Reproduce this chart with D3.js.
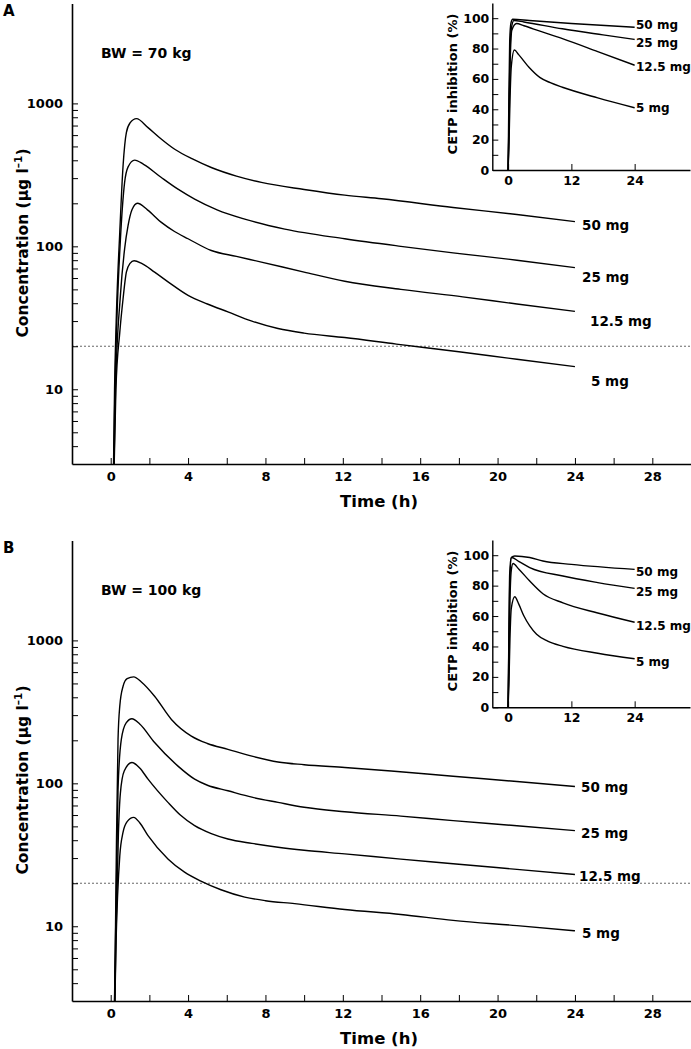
<!DOCTYPE html>
<html><head><meta charset="utf-8">
<script src="https://cdn.jsdelivr.net/npm/d3@7/dist/d3.min.js"></script>
<style>
body{margin:0;background:#fff;}
svg{display:block;font-family:"DejaVu Sans",sans-serif;font-weight:bold;}
</style></head>
<body><svg id="c" width="691" height="1049"></svg>
<script>
// ---------- data ----------
const doses = ["50 mg", "25 mg", "12.5 mg", "5 mg"];
const timeTicks = [0, 4, 8, 12, 16, 20, 24, 28];
const timeMinor = [0, 2, 4, 6, 8, 10, 12, 14, 16, 18, 20, 22, 24, 26, 28];
const concMajor = [10, 100, 1000];
const concMinor = [4,5,6,7,8,9,10,20,30,40,50,60,70,80,90,100,200,300,400,500,600,700,800,900,1000];
const thresholdConc = 20;
const insetTimeTicks = [0, 12, 24];
const inhibTicks = [0,10,20,30,40,50,60,70,80,90,100];
const inhibLabels = [0,20,40,60,80,100];

// Panel A (BW = 70 kg): concentration (µg/l) vs time (h)
const concA50 = [[0.1,1],[0.2,10],[0.3,35],[0.47,126],[0.64,366],[0.81,625],[1.0,730],[1.33,782],[1.93,677],[2.5,580],[3.31,478],[4.2,410],[5.2,356],[6.5,310],[7.79,280],[10,250],[12.1,228],[14,215],[17.7,187],[21,167],[24,149]];
const concA25 = [[0.1,1],[0.22,10],[0.35,40],[0.5,110],[0.72,280],[0.9,360],[1.24,401],[1.7,375],[2.62,303],[3.5,250],[4.34,214],[5.5,180],[6.93,155],[9,132],[12.1,113],[15,100],[17.7,90],[21,80],[24,71]];
const concA12 = [[0.1,1],[0.25,10],[0.5,45],[0.72,96],[0.9,140],[1.1,180],[1.38,200],[1.9,180],[2.62,147],[3.3,127],[4,113],[5.2,93.5],[6.5,85],[7.79,77.6],[10,66],[12.1,57],[15,50],[18.2,44.3],[21,39.5],[24,35.1]];
const concA5 = [[0.1,1],[0.27,10],[0.47,25],[0.64,43],[0.81,66],[1.0,76],[1.21,79.3],[1.6,76],[2.27,66],[3,56],[4,45.4],[5,39.5],[6.06,34.8],[7.3,30],[8.65,26.6],[10,24.7],[12.1,23],[14.77,20.7],[18,18.3],[21,16.2],[24,14.4]];
// Panel B (BW = 100 kg)
const concB50 = [[0.15,1],[0.25,10],[0.3,40],[0.38,203],[0.47,347],[0.64,478],[0.85,540],[1.19,556],[1.6,510],[2.27,407],[3.14,280],[4.17,214],[5,190],[6.06,173],[7.3,155],[8.65,141],[10,135],[12.1,129],[14.5,122],[17.7,112],[21,103],[24,95]];
const concB25 = [[0.15,1],[0.26,10],[0.3,20],[0.38,91],[0.55,203],[0.8,265],[1.1,283],[1.5,260],[2.27,193],[3.48,132],[4.34,107],[5,97],[6.06,88.7],[7.3,80],[8.65,73.6],[10,68],[12.1,63.3],[15,59],[17.7,54.8],[21,50.5],[24,46.7]];
const concB12 = [[0.15,1],[0.27,8],[0.4,45],[0.5,85],[0.7,122],[1.1,140],[1.5,128],[1.93,107],[2.96,73.6],[3.6,60],[4.34,50.6],[5.2,44.5],[6.06,40.8],[7.3,38],[8.65,35.7],[10,34],[12.1,32.1],[15,29.5],[17.7,27.4],[21,25],[24,23]];
const concB5 = [[0.15,1],[0.28,8],[0.47,31],[0.64,45.5],[0.85,54],[1.19,57.8],[1.5,53],[1.93,43],[2.96,29.6],[3.8,24],[4.69,20.6],[5.7,18],[6.93,16],[8,15.1],[9.51,14.4],[12.1,13.1],[15,12.1],[17.7,11],[21,10.1],[24,9.3]];
// Insets: CETP inhibition (%) vs time (h)
const inhA50 = [[0,0],[0.12,40],[0.3,85],[0.55,97],[0.87,99.3],[4,98.5],[12,96.5],[24,94]];
const inhA25 = [[0,0],[0.15,30],[0.35,75],[0.6,93],[1.1,98.5],[3,97.5],[10.3,93],[18,89],[24,86]];
const inhA12 = [[0,0],[0.15,25],[0.35,65],[0.7,92],[1.6,96.5],[3,95],[5.9,91.6],[10.3,86.5],[17,78],[24,69]];
const inhA5 = [[0,0],[0.15,15],[0.35,45],[0.6,68],[1.19,79],[2,76],[4,67.5],[6,61],[8,57.5],[10.3,54.5],[17,47.5],[24,41]];
const inhB50 = [[0,0],[0.12,40],[0.3,88],[0.6,98.5],[1.26,99.5],[4.1,98.5],[6.6,96.2],[12,94],[24,90.7]];
const inhB25 = [[0,0],[0.12,35],[0.3,80],[0.64,98.5],[2,96],[4.1,91.9],[10.4,86.3],[17,82],[24,78.2]];
const inhB12 = [[0,0],[0.15,30],[0.35,70],[0.6,90],[0.94,94.5],[2,91],[4.1,83],[6.6,74.7],[10.4,68.7],[17,62],[24,55.9]];
const inhB5 = [[0,0],[0.15,15],[0.35,45],[0.6,65],[1.26,72.7],[2,68],[3,60],[4.1,53.5],[5.4,48],[7.5,43.5],[10.4,40.1],[17,35.5],[24,31.9]];

const panels = [
  {letter:"A", bw:"BW = 70 kg", conc:[concA50,concA25,concA12,concA5], inh:[inhA50,inhA25,inhA12,inhA5], off:0,
   labY:[225,277,321,381], labX:[582,582,590,591], inLabY:[25,43,67,108]},
  {letter:"B", bw:"BW = 100 kg", conc:[concB50,concB25,concB12,concB5], inh:[inhB50,inhB25,inhB12,inhB5], off:537,
   labY:[787,833,876,933], labX:[581,581,579,582], inLabY:[572,592,626,662]}
];

const svg = d3.select("#c");
const defs = svg.append("defs");
const FONT = '"DejaVu Sans", sans-serif';

panels.forEach((p, pi) => {
  const top = 3.5 + p.off, bottom = 464 + p.off, left = 72, right = 691;
  const x = d3.scaleLinear().domain([-2, 30]).range([left, right]);
  const y = d3.scaleLog().domain([3, 5000]).range([bottom, top]);
  const g = svg.append("g");

  defs.append("clipPath").attr("id","clip"+pi).append("rect")
    .attr("x", left).attr("y", top).attr("width", right-left).attr("height", bottom-top);

  // threshold dotted line
  g.append("line").attr("x1", left).attr("x2", right)
    .attr("y1", y(thresholdConc)).attr("y2", y(thresholdConc))
    .attr("stroke", "#555").attr("stroke-width", 0.9).attr("stroke-dasharray", "2,2");

  // curves
  const line = d3.line().x(d => x(d[0])).y(d => y(d[1])).curve(d3.curveMonotoneX);
  const cg = g.append("g").attr("clip-path", `url(#clip${pi})`);
  p.conc.forEach(s => {
    cg.append("path").attr("d", line(s)).attr("fill","none").attr("stroke","#000").attr("stroke-width",1.4);
  });

  // axes
  const xa = g.append("g").attr("transform", `translate(0,${bottom})`)
    .call(d3.axisBottom(x).tickValues(timeMinor).tickSize(-6).tickSizeOuter(0).tickPadding(8)
      .tickFormat(d => timeTicks.includes(d) ? d : ""));
  const ya = g.append("g").attr("transform", `translate(${left},0)`)
    .call(d3.axisLeft(y).tickValues(concMinor).tickSize(-6).tickSizeOuter(0).tickPadding(9)
      .tickFormat(d => concMajor.includes(d) ? d : ""));
  [xa, ya].forEach(a => {
    a.select(".domain").attr("stroke-width", 1.6);
    a.selectAll(".tick line").attr("stroke-width", 1);
    a.selectAll("text").attr("font-size", 13).attr("font-family", FONT).attr("font-weight","bold").attr("fill","#000");
  });

  // labels
  g.append("text").attr("x", 379).attr("y", bottom + 43).attr("text-anchor","middle")
    .attr("font-size", 16.5).text("Time (h)");
  const yl = g.append("text").attr("transform", `translate(28,${243 + p.off}) rotate(-90)`)
    .attr("text-anchor","middle").attr("font-size", 15.5);
  yl.append("tspan").text("Concentration (\u03bcg l");
  yl.append("tspan").attr("dy", -6).attr("font-size", 10.5).text("\u20131");
  yl.append("tspan").attr("dy", 6).text(")");

  g.append("text").attr("x", 3).attr("y", 16 + p.off).attr("font-size", 15).text(p.letter);
  g.append("text").attr("x", 101).attr("y", 58 + p.off).attr("font-size", 14).text(p.bw);

  doses.forEach((d, i) => {
    g.append("text").attr("x", p.labX[i]).attr("y", p.labY[i]).attr("dy","0.35em")
      .attr("font-size", 13.5).text(d);
  });

  // ---------- inset ----------
  const iTop = 3 + p.off, iBottom = 170 + p.off + (pi ? 0.3 : 0), iLeft = 492.3, iRight = 690;
  const ix = d3.scaleLinear().domain([-3, 34.5]).range([iLeft, iRight]);
  const iy = d3.scaleLinear().domain([0, 110]).range([iBottom, iTop]);
  const ig = svg.append("g");
  const iline = d3.line().x(d => ix(d[0])).y(d => iy(d[1])).curve(d3.curveMonotoneX);
  p.inh.forEach(s => {
    ig.append("path").attr("d", iline(s)).attr("fill","none").attr("stroke","#000").attr("stroke-width",1.4);
  });
  const ixa = ig.append("g").attr("transform", `translate(0,${iBottom})`)
    .call(d3.axisBottom(ix).tickValues(insetTimeTicks).tickSize(-6).tickSizeOuter(0).tickPadding(6));
  const iya = ig.append("g").attr("transform", `translate(${iLeft},0)`)
    .call(d3.axisLeft(iy).tickValues(inhibTicks).tickSize(-6).tickSizeOuter(0).tickPadding(3)
      .tickFormat(d => inhibLabels.includes(d) ? d : ""));
  [ixa, iya].forEach(a => {
    a.select(".domain").attr("stroke-width", 1.4);
    a.selectAll(".tick line").attr("stroke-width", 1);
    a.selectAll("text").attr("font-size", 12.5).attr("font-family", FONT).attr("font-weight","bold").attr("fill","#000");
  });
  ig.append("text").attr("transform", `translate(457,${84 + p.off}) rotate(-90)`)
    .attr("text-anchor","middle").attr("font-size", 13).text("CETP inhibition (%)");
  doses.forEach((d, i) => {
    ig.append("text").attr("x", 636).attr("y", p.inLabY[i]).attr("dy","0.35em")
      .attr("font-size", 12).text(d);
  });
});
</script></body></html>
